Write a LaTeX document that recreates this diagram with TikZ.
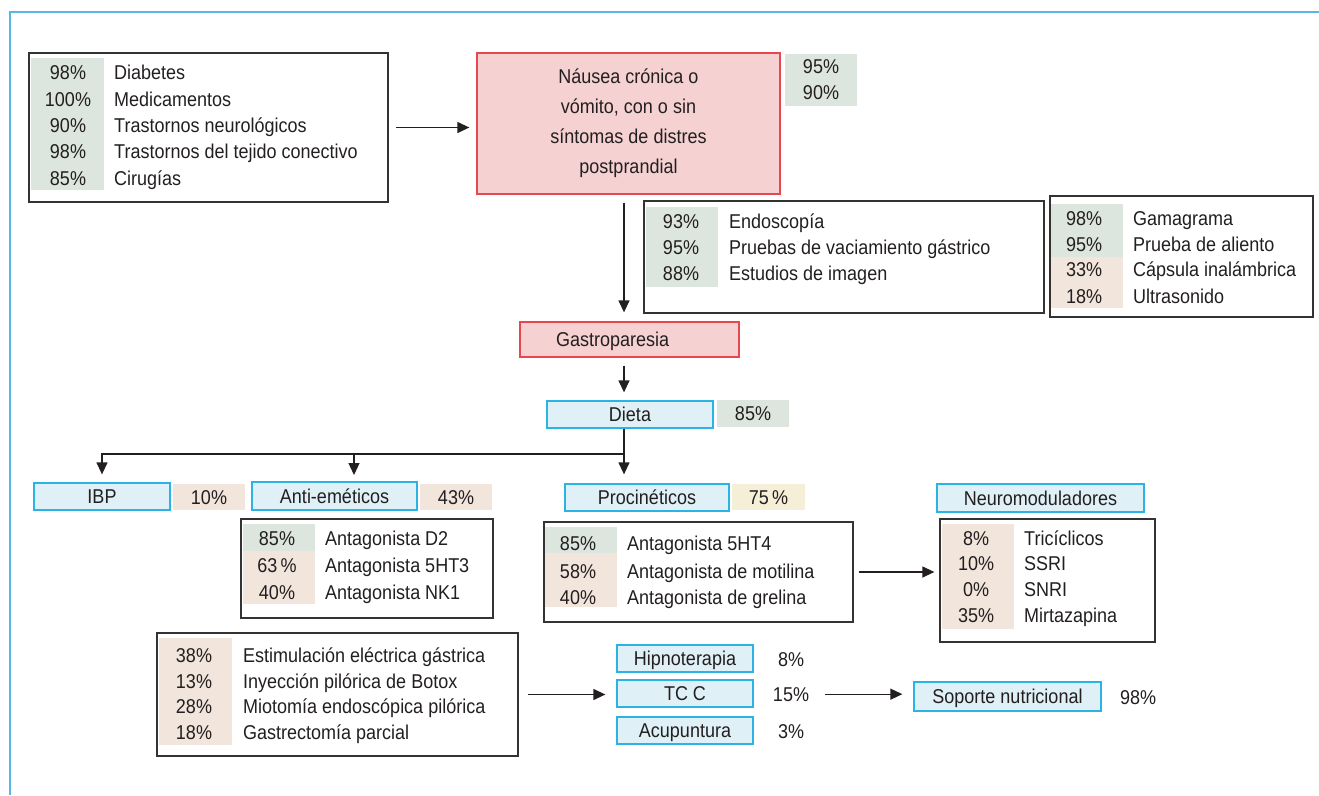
\documentclass[tikz,border=0pt]{standalone}
\usepackage{fontspec}
\setmainfont[FakeStretch=0.9]{Liberation Sans}
\usetikzlibrary{arrows.meta}

\definecolor{ink}{HTML}{231F20}
\definecolor{frameblue}{HTML}{5BB5E6}
\definecolor{cyanline}{HTML}{2BB3E6}
\definecolor{cyanfill}{HTML}{DFF0F7}
\definecolor{redline}{HTML}{E9474F}
\definecolor{redfill}{HTML}{F5D1D1}
\definecolor{grayfill}{HTML}{DDE6DE}
\definecolor{tanfill}{HTML}{F2E5DC}
\definecolor{yelfill}{HTML}{F6EFD8}
\definecolor{boxline}{HTML}{333333}

\begin{document}
\begin{tikzpicture}[x=1pt,y=-1pt,
  font=\fontsize{20}{26}\selectfont, text=ink,
  mid/.style={text height=14pt, text depth=0pt},
  box/.style={draw=boxline, line width=1.3pt, inner sep=0pt},
  redbox/.style={draw=redline, fill=redfill, line width=1.3pt, inner sep=0pt, mid},
  bluebox/.style={draw=cyanline, fill=cyanfill, line width=1.3pt, inner sep=0pt, mid},
  gshade/.style={fill=grayfill, inner sep=0pt},
  tshade/.style={fill=tanfill, inner sep=0pt},
  yshade/.style={fill=yelfill, inner sep=0pt},
  pct/.style={anchor=base, yshift=-7pt, inner sep=0pt},
  lbl/.style={anchor=base west, yshift=-7pt, inner sep=0pt},
  arr/.style={draw=ink, line width=1.3pt, -{Triangle[length=12pt,width=11pt]}},
  ln/.style={draw=ink, line width=1.3pt}]
\useasboundingbox (0,0) rectangle (1319,795);
\draw[frameblue, line width=2pt] (10,795) -- (10,12) -- (1319,12);

% causes
\node[box, minimum width=359, minimum height=149] (risk) at (208.5,127.5) {};
\node[gshade, minimum width=73, minimum height=132] (riskpct) at (67.5,124) {};
\node[pct] (rp1) at (68,72) {98\%};
\node[lbl] (rl1) at (114,72) {Diabetes};
\node[pct] (rp2) at (68,99) {100\%};
\node[lbl] (rl2) at (114,99) {Medicamentos};
\node[pct] (rp3) at (68,125) {90\%};
\node[lbl] (rl3) at (114,125) {Trastornos neurológicos};
\node[pct] (rp4) at (68,151) {98\%};
\node[lbl] (rl4) at (114,151) {Trastornos del tejido conectivo};
\node[pct] (rp5) at (68,178) {85\%};
\node[lbl] (rl5) at (114,178) {Cirugías};

\node[redbox, minimum width=303, minimum height=141, align=center, text height=, text depth=,
  font=\fontsize{20}{30}\selectfont] (nausea) at (628.5,123.5)
  {Náusea crónica o\\vómito, con o sin\\síntomas de distres\\postprandial};
\node[gshade, minimum width=72, minimum height=52, align=center] (nausp) at (821,80) {95\%\\90\%};
\draw[arr, shorten <=7pt, shorten >=7pt] (risk.east) -- (risk.east -| nausea.west);

% studies
\node[box, minimum width=400, minimum height=112] (dx) at (844,257) {};
\node[gshade, minimum width=72, minimum height=80] (dxpct) at (682,247) {};
\node[pct] (dp1) at (681,221) {93\%};
\node[lbl] (dl1) at (729,221) {Endoscopía};
\node[pct] (dp2) at (681,247) {95\%};
\node[lbl] (dl2) at (729,247) {Pruebas de vaciamiento gástrico};
\node[pct] (dp3) at (681,273) {88\%};
\node[lbl] (dl3) at (729,273) {Estudios de imagen};

\node[box, minimum width=263, minimum height=121] (gem) at (1181.5,256.5) {};
\node[gshade, minimum width=72, minimum height=53] (gempg) at (1087,230.5) {};
\node[tshade, minimum width=72, minimum height=51] (gempt) at (1087,282.5) {};
\node[pct] (ep1) at (1084,218) {98\%};
\node[lbl] (el1) at (1133,218) {Gamagrama};
\node[pct] (ep2) at (1084,244) {95\%};
\node[lbl] (el2) at (1133,244) {Prueba de aliento};
\node[pct] (ep3) at (1084,269) {33\%};
\node[lbl] (el3) at (1133,269) {Cápsula inalámbrica};
\node[pct] (ep4) at (1084,296) {18\%};
\node[lbl] (el4) at (1133,296) {Ultrasonido};

\coordinate (spine) at (624,0);
\node[redbox, minimum width=219, minimum height=35, text width=147, inner xsep=36, align=left] (gastro) at (629.5,339.5) {Gastroparesia};
\draw[arr, shorten <=8pt, shorten >=9pt] (nausea.south -| spine) -- (gastro.north -| spine);

\node[bluebox, minimum width=166, minimum height=27] (dieta) at (630,414.5) {Dieta};
\node[gshade, mid, minimum width=72, minimum height=27] (dietap) at (753,413.5) {85\%};
\draw[arr, shorten <=8pt, shorten >=8pt] (gastro.south -| spine) -- (dieta.north -| spine);

% drugs
\node[bluebox, minimum width=136, minimum height=27] (ibp) at (102,496.5) {IBP};
\node[tshade, mid, minimum width=72, minimum height=26] (ibpp) at (209,497) {10\%};
\node[bluebox, minimum width=165, minimum height=28] (anti) at (334.5,496) {Anti-eméticos};
\node[tshade, mid, minimum width=72, minimum height=26] (antip) at (456,497) {43\%};
\node[bluebox, minimum width=164, minimum height=27] (proc) at (647,497.5) {Procinéticos};
\node[yshade, mid, minimum width=73, minimum height=26] (procp) at (768.5,497) {75\,\%};
\node[bluebox, minimum width=207, minimum height=28] (neuro) at (1040.5,498) {Neuromoduladores};

\coordinate (fork) at (624,454);
\coordinate (antitop) at (354,482);
\draw[ln] (dieta.south -| spine) -- (fork);
\draw[arr, shorten >=8pt] (fork) -| (ibp.north);
\draw[arr, shorten >=7pt] (fork -| antitop) -- (antitop);
\draw[arr, shorten >=9pt] (fork) -- (proc.north -| spine);

\node[box, minimum width=252, minimum height=99] (antilist) at (367,568.5) {};
\node[gshade, minimum width=72, minimum height=27] (antipg) at (279,537.5) {};
\node[tshade, minimum width=72, minimum height=53] (antipt) at (279,577.5) {};
\node[pct] (ap1) at (277,538) {85\%};
\node[lbl] (al1) at (325,538) {Antagonista D2};
\node[pct] (ap2) at (277,565) {63\,\%};
\node[lbl] (al2) at (325,565) {Antagonista 5HT3};
\node[pct] (ap3) at (277,592) {40\%};
\node[lbl] (al3) at (325,592) {Antagonista NK1};

\node[box, minimum width=309, minimum height=100] (proclist) at (698.5,572) {};
\node[gshade, minimum width=72, minimum height=26] (procpg) at (581,540) {};
\node[tshade, minimum width=72, minimum height=54] (procpt) at (581,580) {};
\node[pct] (pp1) at (578,543) {85\%};
\node[lbl] (pl1) at (627,543) {Antagonista 5HT4};
\node[pct] (pp2) at (578,571) {58\%};
\node[lbl] (pl2) at (627,571) {Antagonista de motilina};
\node[pct] (pp3) at (578,597) {40\%};
\node[lbl] (pl3) at (627,597) {Antagonista de grelina};

\node[box, minimum width=215, minimum height=123] (neurolist) at (1047.5,580.5) {};
\node[tshade, minimum width=72, minimum height=105] (neuropt) at (978,576.5) {};
\node[pct] (np1) at (976,538) {8\%};
\node[lbl] (nl1) at (1024,538) {Tricíclicos};
\node[pct] (np2) at (976,563) {10\%};
\node[lbl] (nl2) at (1024,563) {SSRI};
\node[pct] (np3) at (976,589) {0\%};
\node[lbl] (nl3) at (1024,589) {SNRI};
\node[pct] (np4) at (976,615) {35\%};
\node[lbl] (nl4) at (1024,615) {Mirtazapina};
\draw[arr, shorten <=5pt, shorten >=5pt] (proclist.east) -- (proclist.east -| neurolist.west);

% procedures and other therapies
\node[box, minimum width=361, minimum height=123] (surg) at (337.5,694.5) {};
\node[tshade, minimum width=73, minimum height=107] (surgpt) at (195.5,691.5) {};
\node[pct] (sp1) at (194,655) {38\%};
\node[lbl] (sl1) at (243,655) {Estimulación eléctrica gástrica};
\node[pct] (sp2) at (194,681) {13\%};
\node[lbl] (sl2) at (243,681) {Inyección pilórica de Botox};
\node[pct] (sp3) at (194,706) {28\%};
\node[lbl] (sl3) at (243,706) {Miotomía endoscópica pilórica};
\node[pct] (sp4) at (194,732) {18\%};
\node[lbl] (sl4) at (243,732) {Gastrectomía parcial};

\node[bluebox, minimum width=136, minimum height=27] (hipno) at (685,658.5) {Hipnoterapia};
\node[pct] (hipnop) at (791,659) {8\%};
\node[bluebox, minimum width=136, minimum height=27] (tcc) at (685,693.5) {TC C};
\node[pct] (tccp) at (791,694) {15\%};
\node[bluebox, minimum width=136, minimum height=27] (acu) at (685,730.5) {Acupuntura};
\node[pct] (acup) at (791,731) {3\%};
\draw[arr, shorten <=9pt, shorten >=11pt] (surg.east) -- (surg.east -| tcc.west);

\node[bluebox, minimum width=187, minimum height=29] (soporte) at (1007.5,696.5) {Soporte nutricional};
\node[pct] (soportep) at (1138,697) {98\%};
\draw[arr, shorten <=16pt, shorten >=11pt] (tccp.east) -- (tccp.east -| soporte.west);
\end{tikzpicture}
\end{document}
